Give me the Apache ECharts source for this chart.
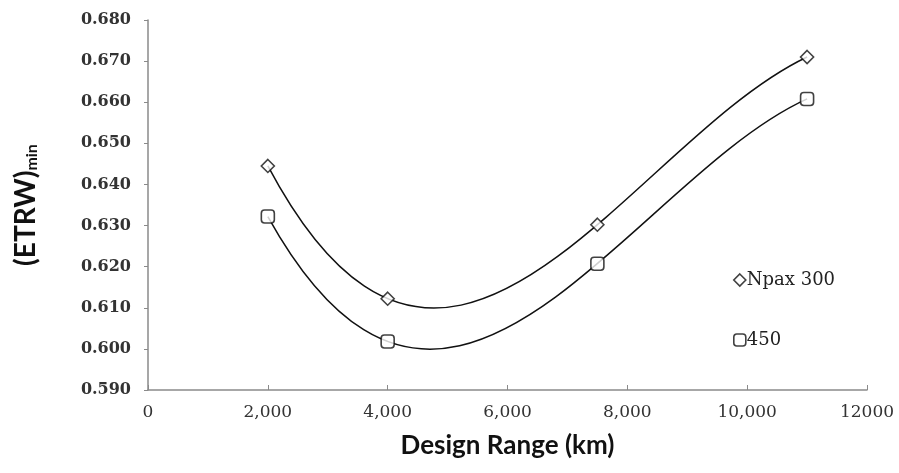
<!DOCTYPE html>
<html><head><meta charset="utf-8">
<script src="https://cdn.jsdelivr.net/npm/echarts@6/dist/echarts.min.js"></script>
<style>html,body{margin:0;padding:0;background:#fff}#c{width:899px;height:473px}</style>
</head><body><div id="c"></div>
<script>
const seriesNames = ['Npax 300', '450'];
const rangeKm = [2000, 4000, 7500, 11000];
const npax300 = [0.6445, 0.6122, 0.6302, 0.6710];
const npax450 = [0.6322, 0.6018, 0.6207, 0.6608];
const xTickLabels = {0:'0', 2000:'2,000', 4000:'4,000', 6000:'6,000', 8000:'8,000', 10000:'10,000', 12000:'12000'};
const yTickLabels = ['0.590','0.600','0.610','0.620','0.630','0.640','0.650','0.660','0.670','0.680'];

// Order-3 polynomial trendline through the points (as in the source chart),
// expressed as a single cubic Bezier in data space, then mapped by the axes.
function cubicTrendBezier(xs, ys) {
  const [x0, x1, x2, x3] = xs;
  const d01 = (ys[1]-ys[0])/(x1-x0), d12 = (ys[2]-ys[1])/(x2-x1), d23 = (ys[3]-ys[2])/(x3-x2);
  const d012 = (d12-d01)/(x2-x0), d123 = (d23-d12)/(x3-x1);
  const d0123 = (d123-d012)/(x3-x0);
  const dp = x => d01 + d012*((x-x0)+(x-x1)) + d0123*((x-x1)*(x-x2)+(x-x0)*(x-x2)+(x-x0)*(x-x1));
  const L = x3 - x0;
  return [[x0, ys[0]], [x0 + L/3, ys[0] + L/3*dp(x0)], [x3 - L/3, ys[3] - L/3*dp(x3)], [x3, ys[3]]];
}

const chart = echarts.init(document.getElementById('c'));
const serif = 'DejaVu Serif';
const markerStyle = {color: '#fff', borderColor: '#111', borderWidth: 1.6};
const curve = (name, vals) => ({
  name: name + ' trend', type: 'custom', silent: true, z: 2,
  data: rangeKm.map((x, i) => [x, vals[i]]),
  renderItem: (params, api) => {
    if (params.dataIndex !== 0) return null;
    const b = cubicTrendBezier(rangeKm, vals).map(p => api.coord(p));
    return {type: 'bezierCurve',
      shape: {x1: b[0][0], y1: b[0][1], cpx1: b[1][0], cpy1: b[1][1], cpx2: b[2][0], cpy2: b[2][1], x2: b[3][0], y2: b[3][1]},
      style: {stroke: '#111', lineWidth: 1.5, fill: null}};
  }
});
const marks = (name, vals, sym, size) => ({
  name, type: 'scatter', z: 3,
  data: rangeKm.map((x, i) => [x, vals[i]]),
  symbol: sym, symbolSize: size, itemStyle: markerStyle
});
chart.setOption({
  animation: false,
  grid: {left: 148, right: 32, top: 20, bottom: 83},
  xAxis: {
    type: 'value', min: 0, max: 12000, interval: 2000,
    name: 'Design Range (km)', nameLocation: 'middle', nameGap: 43,
    nameTextStyle: {fontFamily: 'Lato', fontWeight: 'bold', fontSize: 26, color: '#111'},
    axisLine: {lineStyle: {color: '#8a8a8a', width: 1.5}},
    axisTick: {show: true, inside: true, length: 5, lineStyle: {color: '#8a8a8a'}},
    axisLabel: {fontFamily: serif, fontSize: 17, color: '#333', margin: 14,
      formatter: v => xTickLabels[v] !== undefined ? xTickLabels[v] : ''},
    splitLine: {show: false}
  },
  yAxis: {
    type: 'value', min: 0.59, max: 0.68, interval: 0.01,
    name: '{a|(ETRW)}{b|min}', nameLocation: 'middle', nameGap: 108, nameRotate: 90,
    nameTextStyle: {rich: {
      a: {fontFamily: 'Lato', fontWeight: 'bold', fontSize: 28, color: '#111'},
      b: {fontFamily: 'Lato', fontWeight: 'bold', fontSize: 16, color: '#111', verticalAlign: 'bottom', padding: [13,0,0,0]}
    }},
    axisLine: {show: true, lineStyle: {color: '#8a8a8a', width: 1.5}},
    axisTick: {show: true, length: 4, lineStyle: {color: '#8a8a8a'}},
    axisLabel: {fontFamily: serif, fontSize: 16, fontWeight: 'bold', color: '#333', margin: 17,
      formatter: (v) => yTickLabels[Math.round((v - 0.59) * 100)]},
    splitLine: {show: false}
  },
  legend: {
    orient: 'vertical', left: 728, top: 266, itemGap: 42,
    itemWidth: 12, itemHeight: 12,
    data: [{name: seriesNames[0], icon: 'diamond'}, {name: seriesNames[1], icon: 'roundRect'}],
    itemStyle: markerStyle,
    textStyle: {fontFamily: serif, fontSize: 18, color: '#222', padding: [0,0,0,-4]}
  },
  series: [curve(seriesNames[0], npax300), curve(seriesNames[1], npax450),
           marks(seriesNames[0], npax300, 'diamond', 13), marks(seriesNames[1], npax450, 'roundRect', 13)]
});
</script></body></html>
